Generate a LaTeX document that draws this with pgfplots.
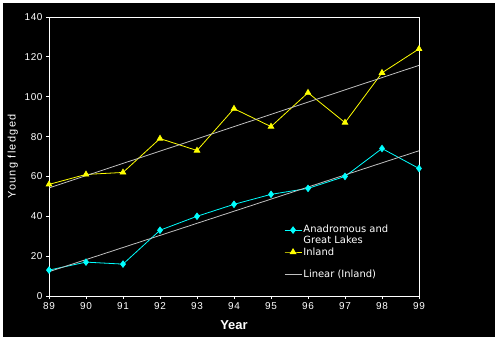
\documentclass[border=0pt]{standalone}
\usepackage{fontspec}
\setmainfont{Liberation Sans}
\newfontfamily\legfont{DejaVu Sans}
\newfontfamily\ylabfont[LetterSpace=12]{Liberation Sans}
\newfontfamily\tickfont[LetterSpace=6]{Liberation Sans}
\usepackage{pgfplots}
\usepackage{pgfplotstable}
\pgfplotsset{compat=1.18}
\definecolor{inl}{RGB}{255,255,0}
\definecolor{ana}{RGB}{0,255,255}
\definecolor{trend}{RGB}{192,192,192}

\pgfplotstableread{
X Y
89 56
90 61
91 62
92 79
93 73
94 94
95 85
96 102
97 87
98 112
99 124
}\inland

\pgfplotstableread{
X Y
89 13
90 17
91 16
92 33
93 40
94 46
95 51
96 54
97 60
98 74
99 64
}\anad

\begin{document}
\begin{tikzpicture}
\fill[white] (0,0) rectangle (498bp,340bp);
\fill[black] (3bp,3bp) rectangle (495bp,337bp);
\useasboundingbox (0,0) rectangle (498bp,340bp);
\begin{axis}[
  at={(49bp,44bp)}, anchor=south west,
  scale only axis, width=370bp, height=279bp,
  xmin=89, xmax=99, ymin=0, ymax=140,
  xtick={89,...,99}, ytick={0,20,...,140},
  axis line style={white, line width=0.8pt},
  every tick/.style={white, line width=0.8pt},
  tick align=outside, xtick pos=bottom, ytick pos=left,
  major tick length=3bp,
  ticklabel style={white, font=\tickfont\fontsize{10}{11}\selectfont},
  /pgf/number format/assume math mode=true,
  /pgf/number format/1000 sep={},
  xlabel={\bfseries Year},
  ylabel={Young fledged},
  xlabel style={white, font=\fontsize{13}{14}\selectfont, yshift=-4bp},
  ylabel style={white, font=\ylabfont\fontsize{11}{12}\selectfont},
  legend style={at={(0.635,0.258)}, anchor=north west, draw=none, fill=none,
    text=white, font=\legfont\fontsize{10}{12}\selectfont, inner sep=0pt,
    row sep=10bp, nodes={inner sep=1.5bp}},
  legend cell align=left,
  legend image post style={line width=0.8pt},
]
\addplot[ana, line width=0.8pt, mark=diamond*, mark size=3.2bp, mark options={fill=ana, draw=ana}]
  table[x=X, y=Y] {\anad};
\addlegendentry{\vphantom{Ag}\smash{\begin{tabular}[t]{@{}l@{}}Anadromous and\\[-1.5bp]Great Lakes\end{tabular}}}
\addplot[inl, line width=0.8pt, mark=triangle*, mark size=3.2bp, mark options={fill=inl, draw=inl}]
  table[x=X, y=Y] {\inland};
\addlegendentry{Inland}
\addplot[trend, line width=0.8pt, no marks]
  table[x=X, y={create col/linear regression={y=Y}}] {\inland};
\addlegendentry{Linear (Inland)}
\addplot[trend, line width=0.8pt, no marks, forget plot]
  table[x=X, y={create col/linear regression={y=Y}}] {\anad};
\end{axis}
\end{tikzpicture}
\end{document}
